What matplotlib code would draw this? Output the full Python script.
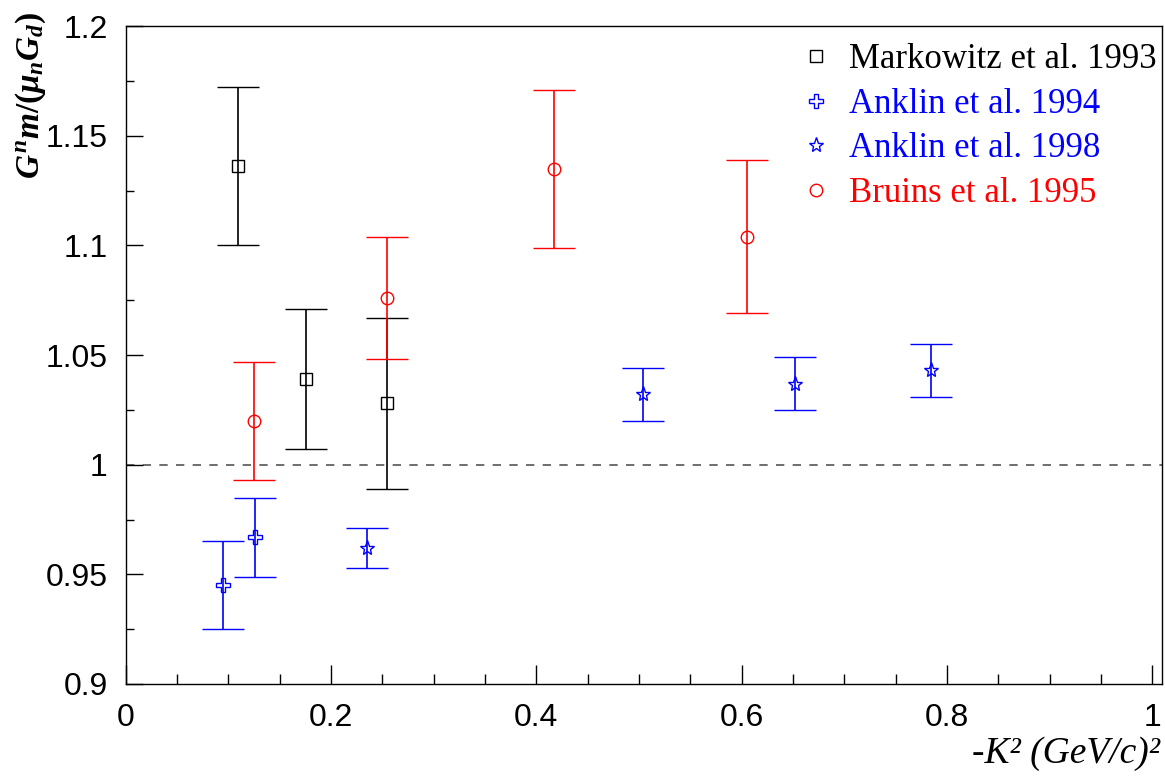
#!/usr/bin/env python3
"""Neutron magnetic form factor ratio G^n_m/(mu_n G_d) vs -K^2, ROOT-style."""
import matplotlib
matplotlib.use("Agg")
import matplotlib.pyplot as plt
from matplotlib.lines import Line2D
from matplotlib.ticker import MultipleLocator

plt.rcParams["mathtext.fontset"] = "custom"
plt.rcParams["mathtext.it"] = "Liberation Serif:italic:bold"
plt.rcParams["mathtext.rm"] = "Liberation Serif:bold"

# Markowitz et al. 1993
mark_x = [0.109, 0.176, 0.255]
mark_y = [1.136, 1.039, 1.028]
mark_err = [0.036, 0.032, 0.039]

# Anklin et al. 1994
ank94_x = [0.095, 0.126]
ank94_y = [0.945, 0.967]
ank94_err = [0.020, 0.018]

# Anklin et al. 1998
ank98_x = [0.235, 0.504, 0.652, 0.784]
ank98_y = [0.962, 1.032, 1.037, 1.043]
ank98_err = [0.009, 0.012, 0.012, 0.012]

# Bruins et al. 1995
bru_x = [0.125, 0.255, 0.4175, 0.605]
bru_y = [1.020, 1.076, 1.135, 1.104]
bru_err = [0.027, 0.028, 0.036, 0.035]

SERIF = "Liberation Serif"
SANS = "Liberation Sans"

MARKERS = [("s", 9), ("P", 10), ("*", 11), ("o", 9)]


def main():
    fig = plt.figure(figsize=(11.65, 7.77), dpi=100)
    ax = fig.add_axes([0.1079, 0.1197, 0.9974 - 0.1079, 0.9665 - 0.1197])

    ax.axhline(1.0, color="#555555", linestyle=(0, (5, 5)), linewidth=1.2, zorder=1)

    common = dict(linestyle="none", capsize=15, elinewidth=1.2, capthick=1.4,
                  markerfacecolor="none", markeredgewidth=1.0, zorder=3)
    series = [(mark_x, mark_y, mark_err, "black"),
              (ank94_x, ank94_y, ank94_err, "blue"),
              (ank98_x, ank98_y, ank98_err, "blue"),
              (bru_x, bru_y, bru_err, "red")]
    for (xs, ys, es, col), (mk, ms) in zip(series, MARKERS):
        ax.errorbar(xs, ys, yerr=es, fmt=mk, color=col, markersize=ms, **common)

    ax.set_xlim(0, 1.0094)
    ax.set_ylim(0.9, 1.2)
    ax.xaxis.set_minor_locator(MultipleLocator(0.05))
    ax.yaxis.set_minor_locator(MultipleLocator(0.025))
    ax.set_xticks([0, 0.2, 0.4, 0.6, 0.8, 1.0])
    ax.set_xticklabels(["0", "0.2", "0.4", "0.6", "0.8", "1"])
    ax.set_yticks([0.9, 0.95, 1.0, 1.05, 1.1, 1.15, 1.2])
    ax.set_yticklabels(["0.9", "0.95", "1", "1.05", "1.1", "1.15", "1.2"])

    ax.tick_params(axis="x", which="major", direction="in", length=14, width=1, pad=14)
    ax.tick_params(axis="x", which="minor", direction="in", length=7, width=1)
    ax.tick_params(axis="y", which="major", direction="in", length=12, width=1, pad=13)
    ax.tick_params(axis="y", which="minor", direction="in", length=6, width=1)
    for lab in ax.get_xticklabels() + ax.get_yticklabels():
        lab.set_fontfamily(SANS)
        lab.set_fontsize(23)
    for sp in ax.spines.values():
        sp.set_linewidth(1.0)

    # legend
    colors = ["black", "blue", "blue", "red"]
    handles = [Line2D([], [], marker=mk, linestyle="none", color=col,
                      markerfacecolor="none", markersize=ms)
               for (mk, ms), col in zip(MARKERS, colors)]
    labels = ["Markowitz et al. 1993", "Anklin et al. 1994",
              "Anklin et al. 1998", "Bruins et al. 1995"]
    ax.legend(handles, labels, loc="upper right", bbox_to_anchor=(1.012, 1.0),
              frameon=False, prop={"family": SERIF, "size": 25},
              labelcolor=colors,
              handlelength=0.8, handletextpad=0.55, labelspacing=0.33,
              borderaxespad=0.2, borderpad=0.3)

    fig.text(0.026, 0.985, r"$G^{n}m/(\mu_{n}G_{d})$", rotation=90,
             ha="center", va="top", fontsize=24)
    fig.text(0.996, 0.008, "-K\u00b2 (GeV/c)\u00b2", ha="right", va="bottom",
             fontsize=27, family=SERIF, style="italic")

    fig.savefig("out.png", dpi=100)


if __name__ == "__main__":
    main()
